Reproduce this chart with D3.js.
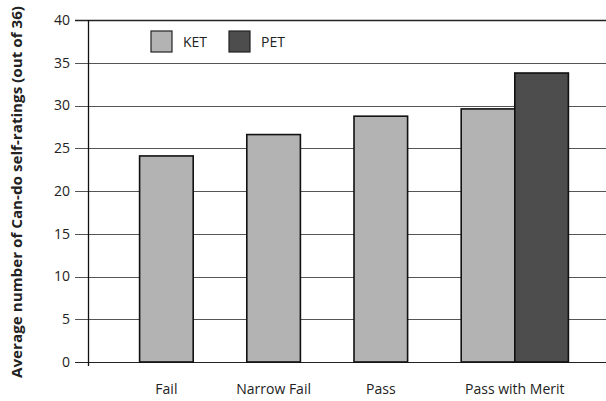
<!DOCTYPE html>
<html>
<head>
<meta charset="utf-8">
<script src="https://cdn.jsdelivr.net/npm/d3@7"></script>
<style>
  body { margin: 0; background: #fff; }
  svg text { font-family: "Open Sans", "Noto Sans", sans-serif; fill: #222; }
</style>
</head>
<body>
<div id="chart"></div>
<script>
'use strict';
// data
var categories = ["Fail", "Narrow Fail", "Pass", "Pass with Merit"];
var series = ["KET", "PET"];
var ketValues = [24.1, 26.6, 28.75, 29.6];
var petValues = [null, null, null, 33.8];
var yTicks = [0, 5, 10, 15, 20, 25, 30, 35, 40];
var colors = { KET: "#b3b3b3", PET: "#4d4d4d" };

var width = 606, height = 401;
var margin = { top: 20, left: 88, bottom: 39 };
var plotBottom = height - margin.bottom;

var svg = d3.select("#chart").append("svg")
    .attr("width", width)
    .attr("height", height);

// build bar list: each bar takes a slot, one empty slot between categories
var bars = [];
var slot = 1;
categories.forEach(function (c, i) {
    var first = slot;
    if (ketValues[i] != null) { bars.push({ cat: c, s: "KET", v: ketValues[i], slot: slot }); slot++; }
    if (petValues[i] != null) { bars.push({ cat: c, s: "PET", v: petValues[i], slot: slot }); slot++; }
    bars.push({ label: c, mid: (first + slot) / 2 });
    slot++;
});
var labels = bars.filter(function (d) { return d.label; });
bars = bars.filter(function (d) { return !d.label; });

var x = d3.scaleLinear().domain([0, 10]).range([86, 622]);
var y = d3.scaleLinear().domain([0, 40]).range([plotBottom, margin.top]);

// gridlines
svg.append("g").selectAll("line")
    .data(yTicks)
    .enter().append("line")
    .attr("x1", 75)
    .attr("x2", width)
    .attr("y1", function (d) { return Math.round(y(d)) + 0.5; })
    .attr("y2", function (d) { return Math.round(y(d)) + 0.5; })
    .attr("stroke", function (d) { return d === 40 || d === 0 ? "#222" : "#555"; })
    .attr("stroke-width", function (d) { return d === 40 ? 1.6 : 1.2; });

// y axis
var yAxis = svg.append("g")
    .attr("transform", "translate(" + margin.left + ",0)")
    .call(d3.axisLeft(y).tickValues(yTicks).tickSize(0).tickPadding(18));
yAxis.select(".domain").remove();
yAxis.selectAll("text")
    .style("font-size", "14px")
    .style("font-family", "'Open Sans', sans-serif")
    .attr("fill", "#222");

svg.append("line")
    .attr("x1", margin.left + 0.5).attr("x2", margin.left + 0.5)
    .attr("y1", margin.top).attr("y2", plotBottom + 4)
    .attr("stroke", "#111").attr("stroke-width", 1.3);

// bars
svg.append("g").selectAll("rect")
    .data(bars)
    .enter().append("rect")
    .attr("x", function (d) { return x(d.slot); })
    .attr("width", function (d) { return x(d.slot + 1) - x(d.slot); })
    .attr("y", function (d) { return y(d.v); })
    .attr("height", function (d) { return y(0) - y(d.v); })
    .attr("fill", function (d) { return colors[d.s]; })
    .attr("stroke", "#111")
    .attr("stroke-width", 1.6);

// category labels
svg.append("g").selectAll("text")
    .data(labels)
    .enter().append("text")
    .attr("x", function (d) { return x(d.mid); })
    .attr("y", 394)
    .attr("text-anchor", "middle")
    .style("font-size", "14px")
    .text(function (d) { return d.label; });

// legend
var legend = svg.append("g").selectAll("g")
    .data(series)
    .enter().append("g")
    .attr("transform", function (d, i) { return "translate(" + (151 + i * 78) + ",31)"; });
legend.append("rect")
    .attr("width", 21).attr("height", 21)
    .attr("fill", function (d) { return colors[d]; })
    .attr("stroke", "#222").attr("stroke-width", 1.2);
legend.append("text")
    .attr("x", 32).attr("y", 16)
    .style("font-size", "14px")
    .text(function (d) { return d; });

// y title
svg.append("text")
    .attr("transform", "translate(22," + 192 + ") rotate(-90)")
    .attr("text-anchor", "middle")
    .style("font-size", "13.5px")
    .style("font-weight", "bold")
    .attr("textLength", 372)
    .attr("lengthAdjust", "spacingAndGlyphs")
    .text("Average number of Can-do self-ratings (out of 36)");
</script>
</body>
</html>
